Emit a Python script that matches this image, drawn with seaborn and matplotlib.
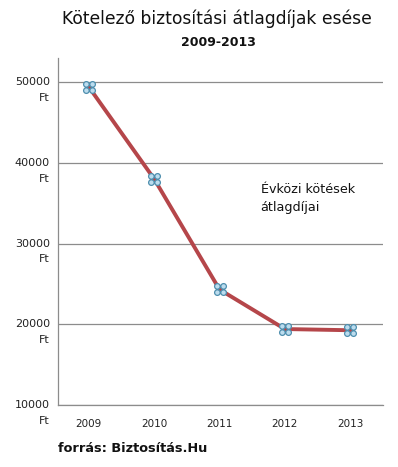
import numpy as np
import pandas as pd
import matplotlib
matplotlib.use("Agg")
import matplotlib.pyplot as plt
from matplotlib.path import Path
import seaborn as sns

years = ["2009", "2010", "2011", "2012", "2013"]
premium = [49400, 38000, 24300, 19400, 19250]
y_ticks = [10000, 20000, 30000, 40000, 50000]

df = pd.DataFrame({"year": years, "premium": premium})

sns.set_style("white")
plt.rcParams["font.family"] = ["DejaVu Sans"]

# marker: four small circles in an X
circles = [Path.circle((dx, dy), 0.45) for dx in (-0.5, 0.5) for dy in (-0.5, 0.5)]
quad = Path.make_compound_path(*circles)

fig = plt.figure(figsize=(3.98, 4.67), dpi=100)
ax = fig.add_axes([0.146, 0.133, 0.816, 0.743])

sns.lineplot(data=df, x="year", y="premium", ax=ax, color="#b5464a", linewidth=2.8,
             marker=quad, markersize=8.5, markerfacecolor="#bcdcee",
             markeredgecolor="#4f8fae", markeredgewidth=0.9, sort=False)

ax.set_ylim(10000, 53000)
ax.set_xlim(-0.47, 4.5)
ax.set_yticks(y_ticks)
ax.set_yticklabels([f"{v}\nFt" for v in y_ticks], fontsize=8, color="#222222",
                   multialignment="right", linespacing=1.7)
ax.tick_params(axis="y", length=4, color="#888888", pad=2)
ax.tick_params(axis="x", length=4, color="#888888", labelsize=7.5, labelcolor="#222222", pad=6)
ax.yaxis.grid(True, color="#8c8c8c", linewidth=0.9)
ax.set_xlabel("")
ax.set_ylabel("")
for side in ["top", "right"]:
    ax.spines[side].set_visible(False)
for side in ["left", "bottom"]:
    ax.spines[side].set_color("#8c8c8c")
    ax.spines[side].set_linewidth(0.9)

# y tick labels sit with the number on the tick line
for lab in ax.get_yticklabels():
    lab.set_va("center")
    lab.set_transform(lab.get_transform() + matplotlib.transforms.ScaledTranslation(0, -8 / 100, fig.dpi_scale_trans))

ax.text(2.63, 35600, "Évközi kötések\nátlagdíjai", fontsize=9.2, color="#111111",
        ha="left", va="center", linespacing=1.55)

fig.text(0.545, 0.96, "Kötelező biztosítási átlagdíjak esése", fontsize=12.3,
         ha="center", va="center", color="#111111")
fig.text(0.548, 0.91, "2009-2013", fontsize=9, fontweight="bold",
         ha="center", va="center", color="#111111")
fig.text(0.146, 0.04, "forrás: Biztosítás.Hu", fontsize=9.3, fontweight="bold",
         ha="left", va="center", color="#111111")

fig.savefig("out.png", dpi=100)
